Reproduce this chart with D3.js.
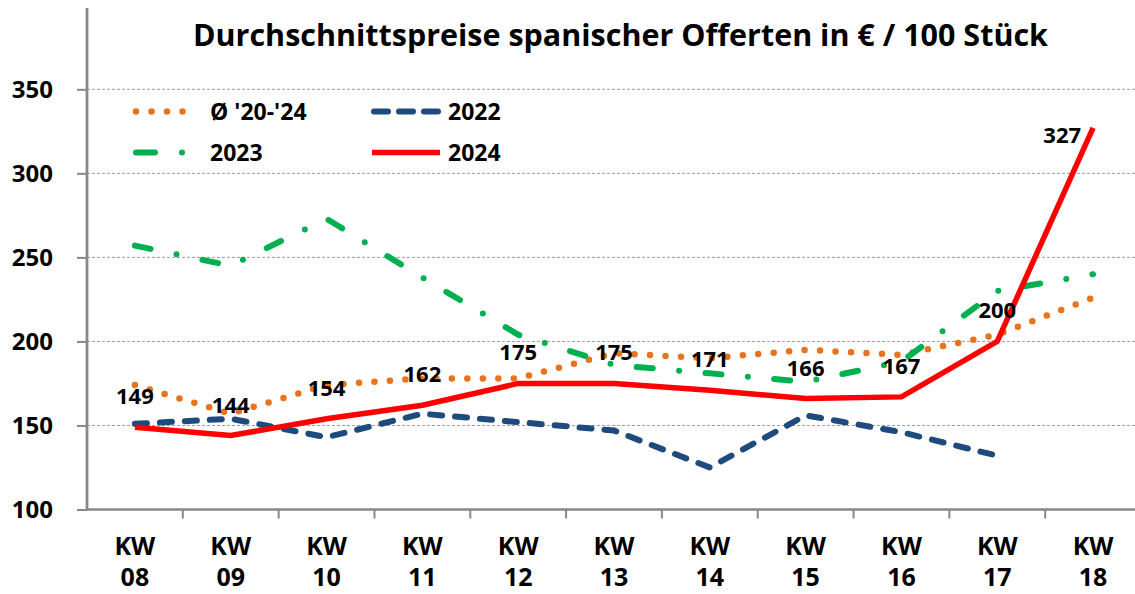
<!DOCTYPE html>
<html>
<head>
<meta charset="utf-8">
<script src="https://cdn.jsdelivr.net/npm/d3@7"></script>
<style>
  html, body { margin: 0; padding: 0; background: #fff; }
  svg { display: block; font-family: "Open Sans", "DejaVu Sans", sans-serif; font-weight: 700; }
</style>
</head>
<body>
<div id="chart"></div>
<script>
// Durchschnittspreise spanischer Offerten, KW 08–18
const weeks = ["08", "09", "10", "11", "12", "13", "14", "15", "16", "17", "18"];
const avg2024 = [174, 157, 174, 178, 178, 193, 190, 195, 192, 204, 226];   // Ø '20-'24
const y2022 = [151, 154, 143, 157, 152, 147, 125, 156, 146, 132, null];
const y2023 = [257, 245, 273, 238, 204, 186, 181, 176, 188, 230, 240];
const y2024 = [149, 144, 154, 162, 175, 175, 171, 166, 167, 200, 327];
const yTicks = [100, 150, 200, 250, 300, 350];
const title = "Durchschnittspreise spanischer Offerten in € / 100 Stück";

const W = 1135, H = 594;
const plotL = 87, plotR = 1141, plotB = 509.5, plotT = 8;

const svg = d3.select("#chart").append("svg")
  .attr("width", W).attr("height", H).attr("viewBox", `0 0 ${W} ${H}`);

const x = d3.scaleBand().domain(weeks).range([plotL, plotR]);
const cx = d => x(d) + x.bandwidth() / 2;
const y = d3.scaleLinear().domain([100, 350]).range([plotB, 89.3]);

// grid
svg.append("g").selectAll("line").data(yTicks.slice(1)).join("line")
  .attr("x1", plotL).attr("x2", plotR)
  .attr("y1", d => y(d)).attr("y2", d => y(d))
  .attr("stroke", "#9a9a9a").attr("stroke-width", 1).attr("stroke-dasharray", "3 2");

// y axis
const yAxis = svg.append("g").attr("transform", `translate(${plotL},0)`)
  .call(d3.axisLeft(y).tickValues(yTicks).tickSize(10).tickPadding(24));
yAxis.select(".domain").remove();
yAxis.selectAll(".tick line").attr("stroke", "#888").attr("stroke-width", 2);
yAxis.selectAll(".tick text").attr("font-size", 24).attr("font-weight", 700)
  .attr("font-family", "Open Sans").attr("fill", "#000").attr("dy", "0.35em");
svg.append("line").attr("x1", plotL).attr("x2", plotL).attr("y1", plotT).attr("y2", plotB + 1)
  .attr("stroke", "#888").attr("stroke-width", 2.8);

// x axis
svg.append("line").attr("x1", plotL).attr("x2", plotR).attr("y1", plotB).attr("y2", plotB)
  .attr("stroke", "#888").attr("stroke-width", 2.5);
svg.append("g").selectAll("line").data(weeks.slice(1)).join("line")
  .attr("x1", d => x(d)).attr("x2", d => x(d))
  .attr("y1", plotB).attr("y2", plotB + 9)
  .attr("stroke", "#888").attr("stroke-width", 2);
const xl = svg.append("g").selectAll("text").data(weeks).join("text")
  .attr("text-anchor", "middle").attr("font-size", 25).attr("fill", "#000");
xl.append("tspan").attr("x", cx).attr("y", 555).text("KW");
xl.append("tspan").attr("x", cx).attr("y", 586).text(d => d);

// series
const series = [
  { name: "Ø '20-'24", values: avg2024, color: "#E8731C", dash: "0 15.5", width: 6.5 },
  { name: "2022", values: y2022, color: "#1F4A7E", dash: "12 13", width: 6 },
  { name: "2023", values: y2023, color: "#00B050", dash: "16 26.5 0 26.5", width: 6 },
  { name: "2024", values: y2024, color: "#FF0000", dash: null, width: 5.5 }
];
const line = d3.line()
  .defined(d => d.v != null)
  .x(d => cx(d.w)).y(d => y(d.v));

series.forEach(s => {
  svg.append("path")
    .datum(weeks.map((w, i) => ({ w, v: s.values[i] })))
    .attr("d", line)
    .attr("fill", "none")
    .attr("stroke", s.color).attr("stroke-width", s.width)
    .attr("stroke-linecap", s.dash ? "round" : "butt")
    .attr("stroke-linejoin", "miter")
    .attr("stroke-dasharray", s.dash);
});

// data labels for 2024
const last = weeks.length - 1;
svg.append("g").selectAll("text").data(weeks).join("text")
  .attr("font-size", 22).attr("fill", "#000")
  .attr("text-anchor", (d, i) => i === last ? "end" : "middle")
  .attr("x", (d, i) => i === last ? cx(d) - 12 : cx(d))
  .attr("y", (d, i) => i === last ? y(y2024[i]) + 15 : y(y2024[i]) - 23)
  .text((d, i) => y2024[i]);

// legend
const legend = [
  { s: series[0], x: 136, y: 111.5, len: 62, tx: 210 },
  { s: series[1], x: 374, y: 111.5, len: 64, tx: 448 },
  { s: series[2], x: 136, y: 152.5, len: 50, tx: 210 },
  { s: series[3], x: 372, y: 152.5, len: 68, tx: 448 }
];
legend.forEach(l => {
  const dash = l.s.name === "2022" ? "14 11" : l.s.name === "2023" ? "19 27 0 30" : l.s.dash;
  svg.append("line")
    .attr("x1", l.x).attr("x2", l.x + l.len).attr("y1", l.y).attr("y2", l.y)
    .attr("stroke", l.s.color).attr("stroke-width", l.s.width)
    .attr("stroke-linecap", l.s.dash ? "round" : "butt")
    .attr("stroke-dasharray", dash);
  svg.append("text").attr("x", l.tx).attr("y", l.y + 8.5)
    .attr("font-size", 23).attr("fill", "#000").text(l.s.name);
});

// title
svg.append("text").attr("x", 193).attr("y", 46)
  .attr("font-size", 30).attr("fill", "#000")
  .attr("textLength", 855).attr("lengthAdjust", "spacingAndGlyphs")
  .text(title);
</script>
</body>
</html>
